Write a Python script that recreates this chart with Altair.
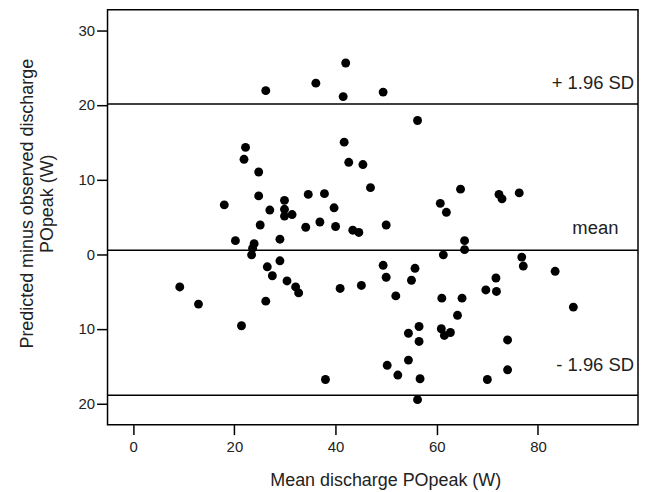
import altair as alt
import pandas as pd

# Mean discharge POpeak (W)
mean_w = [26.2, 36.1, 42.0, 41.5, 49.4, 56.2, 41.7, 22.2, 21.9, 42.6,
          45.4, 24.8, 46.9, 18.0, 24.8, 34.6, 37.8, 39.7, 29.9, 27.0,
          29.9, 29.9, 31.4, 36.9, 25.1, 34.1, 40.0, 43.4, 44.6, 20.2,
          23.9, 23.6, 23.4, 29.0, 29.0, 26.5, 27.5, 30.4, 32.1, 32.7,
          9.2, 12.9, 26.2, 21.4, 40.9, 45.1, 38.0, 64.7, 60.7, 61.9,
          72.3, 72.9, 76.3, 50.0, 65.5, 65.5, 61.3, 49.4, 50.0, 55.7,
          55.0, 51.9, 61.0, 65.0, 64.1, 76.8, 77.1, 83.4, 71.7, 69.7,
          71.8, 87.0, 56.5, 54.4, 56.5, 60.9, 61.5, 62.7, 74.0, 54.4,
          50.2, 52.3, 56.7, 70.0, 74.0, 56.2]
# Predicted minus observed (W)
diff_w = [21.9, 22.9, 25.6, 21.1, 21.7, 17.9, 15.0, 14.3, 12.7, 12.3,
          12.0, 11.0, 8.9, 6.6, 7.8, 8.0, 8.1, 6.2, 7.2, 5.9,
          6.0, 5.1, 5.3, 4.3, 3.9, 3.6, 3.7, 3.2, 2.9, 1.8,
          1.4, 0.8, -0.1, 2.0, -0.9, -1.7, -2.9, -3.6, -4.4, -5.2,
          -4.4, -6.7, -6.3, -9.6, -4.6, -4.2, -16.8, 8.7, 6.8, 5.6,
          8.0, 7.4, 8.2, 3.9, 1.8, 0.6, -0.1, -1.5, -3.1, -1.9,
          -3.5, -5.6, -5.9, -5.9, -8.2, -0.4, -1.6, -2.3, -3.2, -4.8,
          -5.0, -7.1, -9.7, -10.6, -11.7, -10.0, -10.9, -10.5, -11.5, -14.2,
          -14.9, -16.2, -16.7, -16.8, -15.5, -19.5]

# Reference lines: +1.96 SD, mean, -1.96 SD
line_vals = [20.1, 0.53, -18.9]
line_labels = ["+ 1.96 SD", "mean", "- 1.96 SD"]
label_x = [99.0, 95.9, 99.0]
label_y = [22.17, 2.76, -15.69]

x_ticks = [0, 20, 40, 60, 80]
y_ticks = [-20, -10, 0, 10, 20, 30]
x_domain = [-5.08, 99.78]
y_domain = [-22.85, 32.75]

FONT = "Liberation Sans"
TXT = "#222222"

pts = pd.DataFrame({"m": mean_w, "d": diff_w})
lines = pd.DataFrame({"v": line_vals})
labels = pd.DataFrame({"x": label_x, "y": label_y, "t": line_labels})

xscale = alt.Scale(domain=x_domain, nice=False, zero=False)
yscale = alt.Scale(domain=y_domain, nice=False, zero=False)

points = alt.Chart(pts).mark_point(filled=True, color="black", size=80, opacity=1).encode(
    x=alt.X("m:Q", scale=xscale,
            axis=alt.Axis(values=x_ticks, title="Mean discharge POpeak (W)",
                          grid=False, domain=False, tickSize=10, tickColor="black",
                          tickWidth=1.5, labelFontSize=15, labelFont=FONT,
                          labelColor=TXT, labelPadding=5, titleFont=FONT,
                          titleFontSize=18, titleFontWeight="normal",
                          titleColor=TXT, titleX=279, titleY=61,
                          titleBaseline="alphabetic", titleAnchor="middle")),
    y=alt.Y("d:Q", scale=yscale,
            axis=alt.Axis(values=y_ticks,
                          title=["Predicted minus observed discharge", "POpeak (W)"],
                          labelExpr="format(abs(datum.value), 'd')",
                          grid=False, domain=False, tickSize=11, tickColor="black",
                          tickWidth=1.5, labelFontSize=15, labelFont=FONT,
                          labelColor=TXT, labelPadding=2, titleFont=FONT,
                          titleFontSize=18, titleFontWeight="normal",
                          titleColor=TXT, titleX=-75, titleY=194.5,
                          titleAngle=-90, titleBaseline="alphabetic",
                          titleAlign="center", titleLineHeight=20)),
)

rules = alt.Chart(lines).mark_rule(color="black", strokeWidth=1.5).encode(
    y=alt.Y("v:Q", scale=yscale)
)

texts = alt.Chart(labels).mark_text(
    align="right", baseline="alphabetic", font=FONT, fontSize=18.5, color=TXT
).encode(
    x=alt.X("x:Q", scale=xscale),
    y=alt.Y("y:Q", scale=yscale),
    text="t:N",
)

chart = alt.layer(rules, points, texts).properties(
    width=533, height=417,
    autosize=alt.AutoSizeParams(type="none"),
    padding={"left": 100, "top": 0.5, "right": 1, "bottom": 66},
    background="white",
).configure_view(stroke="black", strokeWidth=1.5)

chart.save("out.html", embed_options={"renderer": "svg", "actions": False})
